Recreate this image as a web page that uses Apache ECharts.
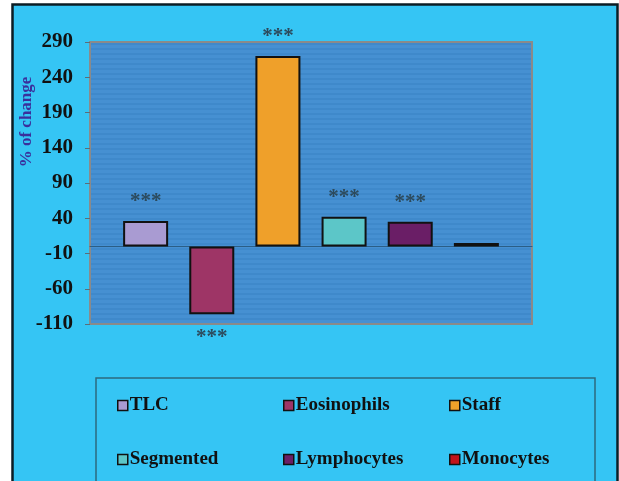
<!DOCTYPE html>
<html>
<head>
<meta charset="utf-8">
<script src="https://cdn.jsdelivr.net/npm/echarts@6/dist/echarts.min.js"></script>
<style>
  html, body { margin: 0; padding: 0; background: #fff; }
  #chart { width: 619px; height: 481px; }
</style>
</head>
<body>
<div id="chart"></div>
<script>
// values (% of change)
const seriesNames = ['TLC', 'Eosinophils', 'Staff', 'Segmented', 'Lymphocytes', 'Monocytes'];
const seriesValues = [36, -96, 270, 42, 35, 5];
const seriesColors = ['#A99BD2', '#9E3566', '#EFA02A', '#5CC6C8', '#6A1E66', '#C0141A'];
const significance = ['***', '***', '***', '***', '***', ''];
const yTicks = [-110, -60, -10, 40, 90, 140, 190, 240, 290];

const serif = '"Liberation Serif", "Times New Roman", serif';

// striped plot background
const stripe = document.createElement('canvas');
stripe.width = 4;
stripe.height = 5;
const sctx = stripe.getContext('2d');
sctx.fillStyle = '#4690D2';
sctx.fillRect(0, 0, 4, 3);
sctx.fillStyle = '#3F89CB';
sctx.fillRect(0, 3, 4, 2);

const chart = echarts.init(document.getElementById('chart'), null, { renderer: 'canvas' });

// legend positions (3 columns x 2 rows)
const legendCols = [117, 283, 449];
const legendRows = [396, 450];

const legends = seriesNames.map((name, i) => ({
  data: [name],
  left: legendCols[i % 3],
  top: legendRows[Math.floor(i / 3)],
  padding: 0,
  icon: 'rect',
  itemWidth: 10,
  itemHeight: 10,
  itemStyle: { borderColor: '#111', borderWidth: 1.5 },
  textStyle: { fontFamily: serif, fontWeight: 'bold', fontSize: 19, color: '#111', padding: [0, 0, 0, -3] },
  selectedMode: false
}));

const series = seriesNames.map((name, i) => ({
  name: name,
  type: 'bar',
  data: [seriesValues[i]],
  barWidth: 45,
  barGap: '47%',
  itemStyle: { color: seriesColors[i], borderColor: '#111', borderWidth: 2 },
  label: {
    show: significance[i] !== '',
    position: seriesValues[i] < 0 ? 'bottom' : 'top',
    distance: seriesValues[i] < 0 ? 13 : 9,
    formatter: () => significance[i],
    fontFamily: serif,
    fontWeight: 'bold',
    fontSize: 21,
    color: '#2C4A5C'
  }
}));

const option = {
  animation: false,
  backgroundColor: '#ffffff',
  graphic: [
    {
      type: 'rect',
      z: -100,
      shape: { x: 12.5, y: 4.5, width: 605, height: 490 },
      style: { fill: '#35C5F4', stroke: '#0b1d24', lineWidth: 2.5 }
    },
    {
      type: 'rect',
      z: -50,
      shape: { x: 96, y: 378, width: 499, height: 130 },
      style: { fill: 'none', stroke: '#2D6A7E', lineWidth: 1.5 }
    },
    {
      type: 'text',
      x: 27,
      y: 122,
      rotation: Math.PI / 2,
      style: {
        text: '% of change',
        font: 'bold 17px ' + serif,
        fill: '#3A2F9C',
        align: 'center',
        verticalAlign: 'middle'
      }
    }
  ],
  legend: legends,
  grid: {
    left: 90,
    right: 87,
    top: 42,
    bottom: 157,
    show: true,
    backgroundColor: { image: stripe, repeat: 'repeat' },
    borderColor: '#8A8A8A',
    borderWidth: 2
  },
  xAxis: {
    type: 'category',
    data: [''],
    axisLine: { onZero: true, lineStyle: { color: '#2B5E86', width: 1 } },
    axisTick: { show: false },
    axisLabel: { show: false }
  },
  yAxis: {
    type: 'value',
    min: -110,
    max: 290,
    splitLine: { show: false },
    axisLine: { show: true, lineStyle: { color: '#8A8A8A', width: 2 } },
    axisTick: { show: true, length: 5, customValues: yTicks, lineStyle: { color: '#5A6E7A' } },
    axisLabel: {
      customValues: yTicks,
      margin: 17,
      fontFamily: serif,
      fontWeight: 'bold',
      fontSize: 21,
      color: '#111'
    }
  },
  series: series
};

chart.setOption(option);
</script>
</body>
</html>
